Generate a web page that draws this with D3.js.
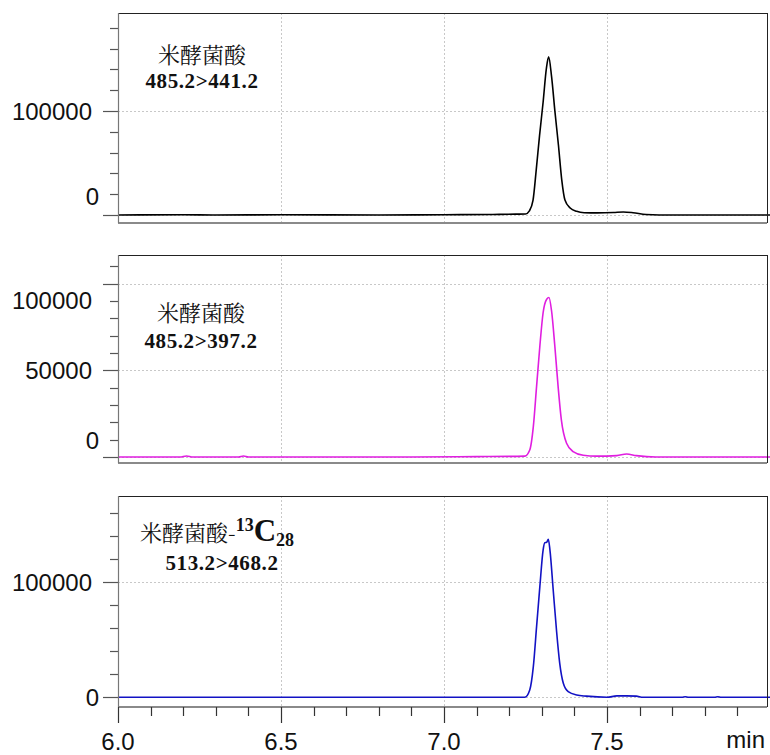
<!DOCTYPE html>
<html>
<head>
<meta charset="utf-8">
<script src="https://cdn.jsdelivr.net/npm/d3@7"></script>
<style>
	body { margin: 0; background: #fff; }
	svg { display: block; }
</style>
</head>
<body>
<div class="thegraph"></div>
<script>
// trace 1: 485.2>441.2 (black)
var time1 = [6.00, 6.20, 6.30, 6.50, 6.80, 7.00, 7.15, 7.22, 7.25, 7.262, 7.273, 7.283, 7.293, 7.304, 7.314, 7.321,
             7.330, 7.340, 7.351, 7.361, 7.371, 7.387, 7.407, 7.43, 7.47, 7.52, 7.55, 7.58, 7.62, 7.70, 7.85, 8.00];
var int1  = [0, 300, 0, 200, 0, 300, 500, 800, 1000, 4000, 14000, 43600, 76000, 108400, 140700, 152000,
             133000, 100300, 67300, 34300, 14400, 6700, 3500, 2200, 2000, 2400, 2900, 2200, 500, 0, 0, 0];

// trace 2: 485.2>397.2 (magenta)
var time2 = [6.00, 6.19, 6.21, 6.23, 6.37, 6.385, 6.40, 6.60, 6.90, 7.10, 7.248, 7.263, 7.274, 7.284, 7.294, 7.304,
             7.315, 7.322, 7.330, 7.340, 7.350, 7.360, 7.376, 7.396, 7.427, 7.468, 7.53, 7.56, 7.59, 7.65, 8.00];
var int2  = [0, 0, 600, 0, 0, 600, 0, 0, 0, 200, 500, 4000, 17500, 40700, 63900, 83200,
             91000, 92000, 84200, 63900, 40700, 21400, 7900, 3100, 1000, 500, 800, 1700, 800, 0, 0];

// trace 3: 513.2>468.2 (blue)
var time3 = [6.00, 6.50, 7.00, 7.20, 7.248, 7.263, 7.274, 7.284, 7.294, 7.304, 7.309, 7.315, 7.320, 7.325, 7.335,
             7.345, 7.355, 7.366, 7.381, 7.407, 7.437, 7.50, 7.53, 7.56, 7.59, 7.61, 7.73, 7.74, 7.75, 7.83, 7.84, 7.85, 8.00];
var int3  = [0, 0, 0, 0, 0, 6300, 26600, 61400, 96200, 128000, 134400, 134700, 137400, 128000, 93300,
             58500, 29500, 12200, 4900, 2000, 1000, 0, 1200, 1200, 1000, 0, 0, 500, 0, 0, 500, 0, 0];

// axes
var xTicks = [6.0, 6.5, 7.0, 7.5];
var xTickLabels = ["6.0", "6.5", "7.0", "7.5"];
var yDomain1 = [-7700, 194200];
var yDomain2 = [-3460, 116500];
var yDomain3 = [-8430, 175000];
var yLabels1 = [0, 100000];
var yLabels2 = [0, 50000, 100000];
var yLabels3 = [0, 100000];
var yGrid1 = [0, 100000];
var yGrid2 = [0, 50000, 100000];
var yGrid3 = [0, 100000];
var yStep1 = 20000, yStep2 = 10000, yStep3 = 20000;
var compound = "米酵菌酸";
var transition1 = "485.2>441.2";
var transition2 = "485.2>397.2";
var transition3 = "513.2>468.2";

(function() {
	var w = 770;
	var h = 755;
	var left = 118, right = 767;

	var svg = d3.select(".thegraph").append("svg")
		.attr("width", w)
		.attr("height", h)
		;

	var x = d3.scaleLinear().domain([6, 8]).range([left, 770]);

	var panels = [
		{ t: time1, v: int1, dom: yDomain1, top: 13, bottom: 223, color: "#000000",
		  labels: yLabels1, grid: yGrid1, step: yStep1, shift: { 0: -19, 100000: 0 } },
		{ t: time2, v: int2, dom: yDomain2, top: 255, bottom: 463, color: "#e01ee0",
		  labels: yLabels2, grid: yGrid2, step: yStep2, shift: { 0: -17, 50000: 0, 100000: 17 } },
		{ t: time3, v: int3, dom: yDomain3, top: 496, bottom: 707, color: "#1212c4",
		  labels: yLabels3, grid: yGrid3, step: yStep3, shift: { 0: 0, 100000: 0 } }
	];

	var drawPanel = function(p, k) {
		var y = d3.scaleLinear().domain(p.dom).range([p.bottom, p.top]);
		var g = svg.append("g");

		// grid
		g.selectAll("line.vgrid")
			.data(xTicks.slice(1))
			.enter()
			.append("line")
			.attr("x1", function(d) { return Math.round(x(d)) + 0.5; })
			.attr("x2", function(d) { return Math.round(x(d)) + 0.5; })
			.attr("y1", p.top)
			.attr("y2", p.bottom)
			.attr("stroke", "#c8c8c8")
			.attr("stroke-dasharray", "2,2")
			;
		g.selectAll("line.hgrid")
			.data(p.grid)
			.enter()
			.append("line")
			.attr("x1", left)
			.attr("x2", right)
			.attr("y1", function(d) { return Math.round(y(d)) + 0.5; })
			.attr("y2", function(d) { return Math.round(y(d)) + 0.5; })
			.attr("stroke", "#c8c8c8")
			.attr("stroke-dasharray", "2,2")
			;

		// y ticks
		var ticks = d3.range(0, p.dom[1], p.step);
		g.selectAll("line.ytick")
			.data(ticks)
			.enter()
			.append("line")
			.attr("x1", function(d) { return p.labels.indexOf(d) >= 0 ? left - 15 : left - 8; })
			.attr("x2", left)
			.attr("y1", function(d) { return Math.round(y(d)) + 0.5; })
			.attr("y2", function(d) { return Math.round(y(d)) + 0.5; })
			.attr("stroke", "#555")
			.attr("stroke-width", 1.2)
			;
		g.selectAll("text.ylab")
			.data(p.labels)
			.enter()
			.append("text")
			.text(function(d) { return "" + d; })
			.attr("x", function(d) { return d === 0 ? 99 : 92; })
			.attr("y", function(d) { return y(d) + p.shift[d]; })
			.attr("dy", "0.36em")
			.attr("text-anchor", "end")
			.attr("font-family", "'Liberation Sans', Arial, sans-serif")
			.attr("font-size", "24px")
			.attr("fill", "#111")
			;

		// trace
		var pts = p.t.map(function(t, i) { return [t, p.v[i]]; });
		var line = d3.line()
			.x(function(d) { return x(d[0]); })
			.y(function(d) { return y(d[1]); })
			.curve(d3.curveMonotoneX)
			;
		g.append("path")
			.attr("d", line(pts))
			.attr("fill", "none")
			.attr("stroke", p.color)
			.attr("stroke-width", 1.6)
			;

		// frame
		g.append("line")
			.attr("x1", left).attr("x2", right)
			.attr("y1", p.top + 0.5).attr("y2", p.top + 0.5)
			.attr("stroke", "#222")
			;
		g.append("line")
			.attr("x1", right + 0.5).attr("x2", right + 0.5)
			.attr("y1", p.top).attr("y2", p.bottom)
			.attr("stroke", "#222")
			;
		g.append("line")
			.attr("x1", left).attr("x2", right)
			.attr("y1", p.bottom).attr("y2", p.bottom)
			.attr("stroke", "#8a8a8a")
			.attr("stroke-width", 2)
			;
		g.append("line")
			.attr("x1", left + 0.5).attr("x2", left + 0.5)
			.attr("y1", p.top).attr("y2", p.bottom)
			.attr("stroke", "#777")
			.attr("stroke-width", 1.2)
			;
	};

	panels.forEach(drawPanel);

	// x axis under the last panel
	var xAxisY = 707;
	var minor = d3.range(6.0, 8.0, 0.1);
	svg.selectAll("line.xtick")
		.data(minor)
		.enter()
		.append("line")
		.attr("x1", function(d) { return Math.round(x(d)) + 0.5; })
		.attr("x2", function(d) { return Math.round(x(d)) + 0.5; })
		.attr("y1", xAxisY)
		.attr("y2", function(d, i) { return i % 5 === 0 ? 723 : 716; })
		.attr("stroke", "#333")
		.attr("stroke-width", 1.2)
		;
	svg.selectAll("text.xlab")
		.data(xTicks)
		.enter()
		.append("text")
		.text(function(d, i) { return xTickLabels[i]; })
		.attr("x", function(d) { return x(d); })
		.attr("y", 750)
		.attr("text-anchor", "middle")
		.attr("font-family", "'Liberation Sans', Arial, sans-serif")
		.attr("font-size", "24px")
		.attr("fill", "#111")
		;
	svg.append("text")
		.text("min")
		.attr("x", 765)
		.attr("y", 748)
		.attr("text-anchor", "end")
		.attr("font-family", "'Liberation Sans', Arial, sans-serif")
		.attr("font-size", "24px")
		.attr("fill", "#111")
		;

	// annotations
	var cjk = "'Noto Serif CJK SC', 'Noto Sans CJK SC', serif";
	var serif = "'Liberation Serif', 'Times New Roman', serif";
	var note = function(cx, y1, y2, tr) {
		svg.append("text")
			.text(compound)
			.attr("x", cx).attr("y", y1)
			.attr("text-anchor", "middle")
			.attr("font-family", cjk)
			.attr("font-size", "22px")
			.attr("fill", "#111")
			;
		svg.append("text")
			.text(tr)
			.attr("x", cx).attr("y", y2)
			.attr("text-anchor", "middle")
			.attr("font-family", serif)
			.attr("font-weight", "bold")
			.attr("font-size", "21px")
			.attr("letter-spacing", "0.6px")
			.attr("fill", "#111")
			;
	};
	note(202, 63, 88, transition1);
	note(201, 321, 348, transition2);

	var t3 = svg.append("text")
		.attr("x", 140).attr("y", 541)
		.attr("fill", "#111")
		;
	t3.append("tspan").text(compound + "-")
		.attr("font-family", cjk).attr("font-size", "22px");
	t3.append("tspan").text("13")
		.attr("font-family", serif).attr("font-weight", "bold").attr("font-size", "18px")
		.attr("dy", "-10");
	t3.append("tspan").text("C")
		.attr("font-family", serif).attr("font-weight", "bold").attr("font-size", "31px")
		.attr("dy", "10");
	t3.append("tspan").text("28")
		.attr("font-family", serif).attr("font-weight", "bold").attr("font-size", "18px")
		.attr("dy", "5");
	svg.append("text")
		.text(transition3)
		.attr("x", 222).attr("y", 570)
		.attr("text-anchor", "middle")
		.attr("font-family", serif)
		.attr("font-weight", "bold")
		.attr("font-size", "21px")
		.attr("letter-spacing", "0.6px")
		.attr("fill", "#111")
		;
})();
</script>
</body>
</html>
